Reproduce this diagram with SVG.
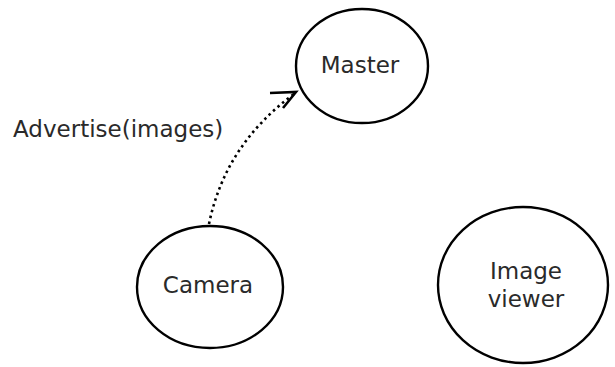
<svg xmlns="http://www.w3.org/2000/svg" width="615" height="367" viewBox="0 0 615 367">
<style>
.node{fill:#fff;stroke:#000;stroke-width:2.4}
.lbl{font-family:"DejaVu Sans",sans-serif;font-size:23px;fill:#2a2a2a;text-anchor:middle}
.edge{fill:none;stroke:#000;stroke-width:2.6}
</style>
<rect width="615" height="367" fill="#fff"/>
<g id="master"><ellipse class="node" cx="362" cy="66" rx="66" ry="57"/><text class="lbl" x="360" y="73">Master</text></g>
<g id="camera"><ellipse class="node" cx="210" cy="287" rx="73" ry="61"/><text class="lbl" x="208" y="293">Camera</text></g>
<g id="imageviewer"><ellipse class="node" cx="523" cy="285" rx="85" ry="78"/><text class="lbl" x="526" y="279">Image</text><text class="lbl" x="526" y="307">viewer</text></g>
<g id="connectors">
<path class="edge" d="M209,224 Q225,145 294,94" stroke-dasharray="2.5,3.5"/>
<path class="edge" d="M270,93 L296,92 L283,108" stroke-width="3.2"/>
<text x="13" y="137" style="font-family:'DejaVu Sans',sans-serif;font-size:23px;fill:#2a2a2a">Advertise(images)</text>
</g>
</svg>
